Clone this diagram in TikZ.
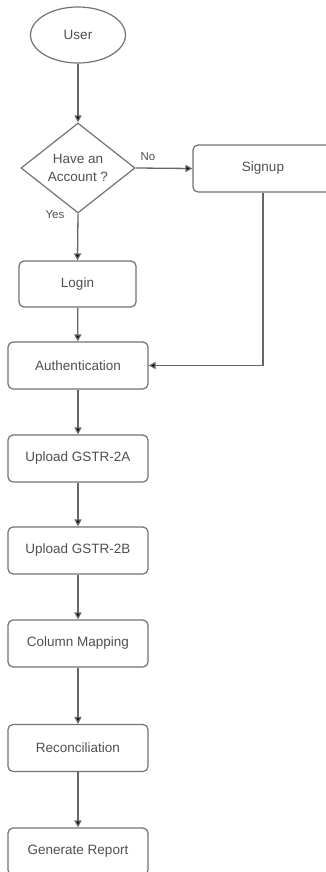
\documentclass[tikz,border=0pt]{standalone}
\usepackage{fontspec}
\setmainfont{Liberation Sans}
\usetikzlibrary{shapes.geometric,arrows.meta}
\definecolor{edgegray}{HTML}{666666}
\definecolor{boxgray}{HTML}{737373}
\definecolor{txtgray}{HTML}{505050}
\tikzset{
  base/.style={draw=boxgray, line width=1.2pt, inner sep=0pt, text=txtgray,
    font=\fontsize{13.5}{17.5}\selectfont, align=center},
  stepbox/.style={base, rounded corners=5pt, minimum width=140pt, minimum height=47pt},
  flow/.style={draw=edgegray, line width=1.3pt,
    -{Triangle[width=7pt,length=7pt,fill=black]}},
  lbl/.style={text=txtgray, font=\fontsize{11.5}{13}\selectfont, inner sep=0pt}
}
\begin{document}
\begin{tikzpicture}[x=1pt,y=-1pt]
  \useasboundingbox (0,0) rectangle (326,872);
  \clip (0,0) rectangle (326,872);
  \fill[white] (0,0) rectangle (326,872);

  % process nodes
  \node[base, ellipse, minimum width=95pt, minimum height=56pt] (user) at (78,35) {User};
  \node[base, diamond, minimum width=114pt, minimum height=90pt] (acct) at (78,168) {Have an\\Account ?};
  \node[stepbox] (signup) at (263,168.5) {Signup};
  \node[stepbox, minimum width=117pt, minimum height=46pt] (login) at (77.5,284) {Login};
  \node[stepbox] (auth) at (78,365.5) {Authentication};
  \node[stepbox] (upa) at (78,458.5) {Upload GSTR-2A};
  \node[stepbox] (upb) at (78,550.5) {Upload GSTR-2B};
  \node[stepbox] (colmap) at (78,643.5) {Column Mapping};
  \node[stepbox] (recon) at (78,748) {Reconciliation};
  \node[stepbox] (report) at (78,851.5) {Generate Report};

  % branch labels
  \node[lbl] (nolbl) at (148,157) {No};
  \node[lbl] (yeslbl) at (55,215) {Yes};

  % connectors
  \draw[flow] (user) -- (acct);
  \draw[flow] (acct.east) -- (signup.west);
  \draw[flow] (acct.south) -- (login.north);
  \draw[flow] (login) -- (auth);
  \draw[flow] (signup.south) |- (auth.east);
  \draw[flow] (auth) -- (upa);
  \draw[flow] (upa) -- (upb);
  \draw[flow] (upb) -- (colmap);
  \draw[flow] (colmap) -- (recon);
  \draw[flow] (recon) -- (report);
\end{tikzpicture}
\end{document}
